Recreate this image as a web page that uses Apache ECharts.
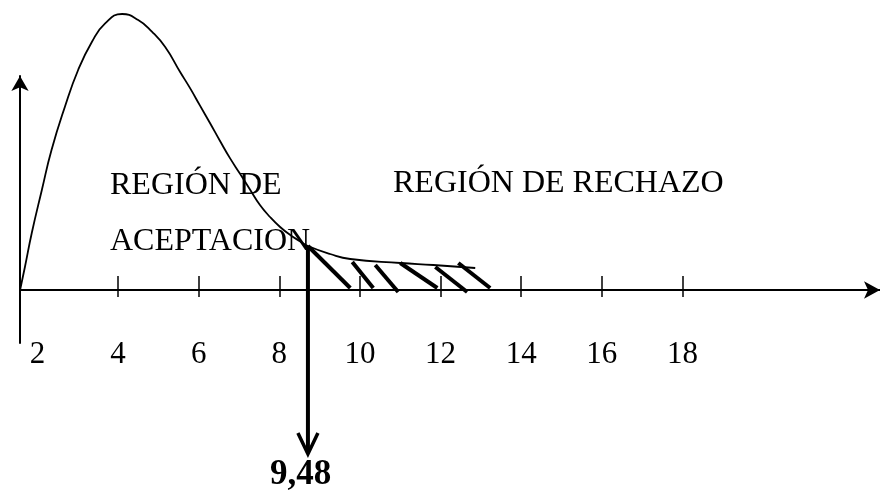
<!DOCTYPE html>
<html>
<head>
<meta charset="utf-8">
<script src="https://cdn.jsdelivr.net/npm/echarts/dist/echarts.min.js"></script>
<style>
  html, body { margin: 0; padding: 0; background: #fff; }
  #chart { width: 880px; height: 490px; }
</style>
</head>
<body>
<div id="chart"></div>
<script>
// curva chi-cuadrado dibujada a mano
const curveX = [1.57, 1.69, 1.86, 2.11, 2.35, 2.68, 3.01, 3.35, 3.68, 4.10, 4.50, 4.84, 5.17,
    5.54, 5.79, 6.03, 6.28, 6.53, 6.78, 7.03, 7.28, 7.52, 7.77, 8.02, 8.27, 8.52, 8.71,
    9.26, 9.76, 11.0, 11.82, 12.86];
const curveY = [0, 0.0115, 0.0285, 0.05, 0.07, 0.0915, 0.11, 0.124, 0.1333, 0.138, 0.135, 0.1292, 0.1215,
    0.109, 0.1008, 0.0923, 0.0835, 0.0745, 0.0658, 0.058, 0.05, 0.0425, 0.0365, 0.0315, 0.0275, 0.0243, 0.022,
    0.018, 0.0155, 0.0135, 0.0125, 0.011];

// rayado de la region de rechazo
const hatchX1 = [8.71, 9.81, 10.38, 11.0, 11.87, 12.44];
const hatchY1 = [0.022, 0.014, 0.0125, 0.0135, 0.0115, 0.0135];
const hatchX2 = [9.76, 10.33, 10.95, 11.92, 12.66, 13.23];
const hatchY2 = [0.001, 0.001, -0.001, 0.001, -0.001, 0.001];

// valor critico
const critX = 8.71;
const critTopY = 0.022;
const critBottomY = -0.082;
const critLabel = '9,48';

const tickValues = [4, 6, 8, 10, 12, 14, 16, 18];
const labelValues = [2, 4, 6, 8, 10, 12, 14, 16, 18];

const font = 'Liberation Serif, Times New Roman, serif';

const chart = echarts.init(document.getElementById('chart'));

const curveData = curveX.map((x, i) => [x, curveY[i]]);
const hatchData = hatchX1.map((x, i) => [x, hatchY1[i], hatchX2[i], hatchY2[i]]);

const options = {
    animation: false,
    grid: { left: 20, right: 0, top: 76, bottom: 147 },
    xAxis: [
        {
            type: 'value',
            min: 1.568,
            max: 22.9,
            splitLine: { show: false },
            axisLine: {
                onZero: true,
                symbol: ['none', 'arrow'],
                symbolSize: [13, 16],
                lineStyle: { color: '#000', width: 2 }
            },
            axisTick: {
                inside: true,
                length: 14,
                customValues: tickValues,
                lineStyle: { color: '#000', width: 1.5 }
            },
            axisLabel: {
                customValues: labelValues,
                margin: -4,
                color: '#000',
                fontFamily: font,
                fontSize: 31
            }
        },
        {
            // tramo inferior de las marcas
            type: 'value',
            position: 'bottom',
            min: 1.568,
            max: 22.9,
            splitLine: { show: false },
            axisLine: { show: false, onZero: true, onZeroAxisIndex: 0 },
            axisTick: {
                length: 7,
                customValues: tickValues,
                lineStyle: { color: '#000', width: 1.5 }
            },
            axisLabel: { show: false }
        }
    ],
    yAxis: {
        type: 'value',
        min: -0.0265,
        max: 0.107,
        splitLine: { show: false },
        axisLine: {
            symbol: ['none', 'arrow'],
            symbolSize: [13, 15],
            lineStyle: { color: '#000', width: 2 }
        },
        axisTick: { show: false },
        axisLabel: { show: false }
    },
    series: [
        {
            type: 'line',
            data: curveData,
            smooth: 0.5,
            symbol: 'none',
            clip: false,
            lineStyle: { color: '#000', width: 1.8 }
        },
        {
            type: 'custom',
            data: hatchData,
            encode: { x: [0, 2], y: [1, 3] },
            clip: false,
            renderItem: function (params, api) {
                const p1 = api.coord([api.value(0), api.value(1)]);
                const p2 = api.coord([api.value(2), api.value(3)]);
                return {
                    type: 'line',
                    shape: { x1: p1[0], y1: p1[1], x2: p2[0], y2: p2[1] },
                    style: { stroke: '#000', lineWidth: 4, lineCap: 'butt' }
                };
            }
        },
        {
            type: 'custom',
            data: [[critX, critTopY, critBottomY]],
            clip: false,
            renderItem: function (params, api) {
                const top = api.coord([api.value(0), api.value(1)]);
                const tip = api.coord([api.value(0), api.value(2)]);
                return {
                    type: 'group',
                    children: [
                        {
                            type: 'line',
                            shape: { x1: top[0], y1: top[1], x2: tip[0], y2: tip[1] - 1 },
                            style: { stroke: '#000', lineWidth: 4 }
                        },
                        {
                            type: 'polyline',
                            shape: { points: [[tip[0] - 10, tip[1] - 21], tip, [tip[0] + 10, tip[1] - 21]] },
                            style: { stroke: '#000', lineWidth: 3.5, fill: 'none', lineJoin: 'miter' }
                        }
                    ]
                };
            }
        }
    ],
    graphic: [
        {
            type: 'text', left: 110, top: 170,
            style: { text: 'REGIÓN DE', font: '32px ' + font, fill: '#000' }
        },
        {
            type: 'text', left: 110, top: 226,
            style: { text: 'ACEPTACION', font: '32px ' + font, fill: '#000' }
        },
        {
            type: 'text', left: 393, top: 168,
            style: { text: 'REGIÓN DE RECHAZO', font: '32px ' + font, fill: '#000' }
        },
        {
            type: 'text', left: 270, top: 457,
            style: { text: critLabel, font: 'bold 35px ' + font, fill: '#000' }
        }
    ]
};

chart.setOption(options);
</script>
</body>
</html>
